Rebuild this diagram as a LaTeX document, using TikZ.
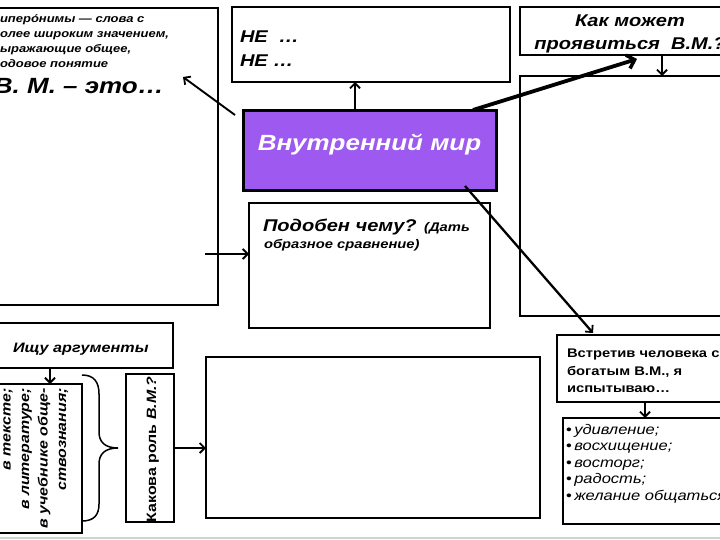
\documentclass[tikz,border=0pt]{standalone}
\usepackage{fontspec}
\setmainfont{Liberation Sans}[FakeStretch=1.18]
\usetikzlibrary{arrows.meta,calc}
\definecolor{vmpurple}{RGB}{158,90,240}
\newcommand\fsz[1]{\fontsize{#1}{#1}\selectfont}
\begin{document}
\begin{tikzpicture}[x=1pt,y=-1pt,
  box/.style={draw, line width=2.2pt, inner sep=0pt, outer sep=0pt, anchor=north west},
  txt/.style={inner sep=0pt, outer sep=0pt, anchor=base west},
  arr/.style={line width=1.9pt, -{Straight Barb[length=5pt,width=10pt,line width=1.8pt]}},
  thickarr/.style={line width=3.8pt, -{Straight Barb[length=7pt,width=14pt,line width=3.5pt]}}]
\useasboundingbox (0,0) rectangle (720,540);
\clip (0,0) rectangle (720,540);
\fill[white] (0,0) rectangle (720,540);

% boxes
\node[box, minimum width=233pt, minimum height=297pt] (defbox) at (-15,8) {};
\node[box, minimum width=278pt, minimum height=75pt] (nebox) at (232,7) {};
\node[box, minimum width=215pt, minimum height=48pt] (howbox) at (520,7) {};
\node[box, minimum width=215pt, minimum height=240pt] (bigbox) at (520,76) {};
\node[box, fill=vmpurple, line width=3pt, minimum width=253pt, minimum height=80pt] (vm) at (243,111) {};
\node[box, minimum width=241pt, minimum height=125pt] (likebox) at (249,203) {};
\node[box, minimum width=188pt, minimum height=45pt] (argbox) at (-15,323) {};
\node[box, line width=1.5pt, minimum width=97pt, minimum height=149pt] (srcbox) at (-15,384) {};
\node[box, line width=1.4pt, minimum width=48pt, minimum height=148pt] (rolebox) at (126,374) {};
\node[box, minimum width=334pt, minimum height=161pt] (midbox) at (206,357) {};
\node[box, minimum width=173pt, minimum height=67pt] (meetbox) at (557,335) {};
\node[box, minimum width=167pt, minimum height=106pt] (feelbox) at (563,418) {};

% texts
\node[txt, font=\fsz{11}\bfseries\itshape] (d1) at (0,23) {иперо́нимы — слова с};
\node[txt, font=\fsz{11}\bfseries\itshape] (d2) at (0,38) {олее широким значением,};
\node[txt, font=\fsz{11}\bfseries\itshape] (d3) at (0,53) {ыражающие общее,};
\node[txt, font=\fsz{11}\bfseries\itshape] (d4) at (0,68) {одовое понятие};
\node[txt, font=\fsz{22}\bfseries\itshape] (dvm) at (-6,94) {В. М. – это…};

\node[txt, font=\fsz{17}\bfseries\itshape] (ne1) at (240,43) {НЕ\ \ …};
\node[txt, font=\fsz{17}\bfseries\itshape] (ne2) at (240,67) {НЕ …};

\node[inner sep=0pt, anchor=base, font=\fsz{17}\bfseries\itshape] (how1) at (630,27) {Как может};
\node[inner sep=0pt, anchor=base, font=\fsz{17}\bfseries\itshape] (how2) at (630,50) {проявиться\ \ В.М.?};

\node[inner sep=0pt, anchor=base, text=white, font=\fsz{22}\bfseries\itshape] (vmtext) at (369.5,151) {Внутренний мир};

\node[txt, font=\fsz{17}\bfseries\itshape] (like1) at (263,231) {Подобен чему? {\fsz{12.5}(Дать}};
\node[txt, font=\fsz{12.5}\bfseries\itshape] (like2) at (264,248) {образное сравнение)};

\node[txt, font=\fsz{13.7}\bfseries\itshape] (argtext) at (13,352) {Ищу аргументы};

\node[inner sep=0pt, anchor=base east, rotate=90, font=\fsz{13.5}\bfseries\itshape] (s1) at (10.5,388) {в тексте;};
\node[inner sep=0pt, anchor=base east, rotate=90, font=\fsz{13.5}\bfseries\itshape] (s2) at (29,388) {в литературе;};
\node[inner sep=0pt, anchor=base east, rotate=90, font=\fsz{13.5}\bfseries\itshape] (s3) at (47.5,388) {в учебнике обще-};
\node[inner sep=0pt, anchor=base east, rotate=90, font=\fsz{13.5}\bfseries\itshape] (s4) at (66,388) {ствознания;};

\node[inner sep=0pt, anchor=base, rotate=90, font=\fsz{13.5}\bfseries] (roletext) at (156,449.5) {Какова роль \textit{В.М.?}};

\node[txt, font=\fsz{12.5}\bfseries] (m1) at (567,357) {Встретив человека с};
\node[txt, font=\fsz{12.5}\bfseries] (m2) at (567,375) {богатым В.М., я};
\node[txt, font=\fsz{12.5}\bfseries] (m3) at (567,392) {испытываю…};

\node[txt, font=\fsz{14}] (f1) at (566,434) {•\hspace{2.5pt}\textit{удивление;}};
\node[txt, font=\fsz{14}] (f2) at (566,450.5) {•\hspace{2.5pt}\textit{восхищение;}};
\node[txt, font=\fsz{14}] (f3) at (566,467) {•\hspace{2.5pt}\textit{восторг;}};
\node[txt, font=\fsz{14}] (f4) at (566,483.5) {•\hspace{2.5pt}\textit{радость;}};
\node[txt, font=\fsz{14}] (f5) at (566,500) {•\hspace{2.5pt}\textit{желание общаться}};

% brace
\draw[line width=1.5pt] (82,375) .. controls (94,375) and (99,382) .. (99,394) -- (99,432)
  .. controls (99,442) and (105,448) .. (118,448)
  .. controls (105,448) and (99,454) .. (99,464) -- (99,504)
  .. controls (99,515) and (94,521) .. (82,521);

% connectors
\draw[arr] ($(vm.north west)+(112,0)$) -- ($(nebox.south west)+(123,0)$);
\draw[arr] ($(vm.north west)+(-8,4)$) -- ($(defbox.north east)+(-35,69)$);
\draw[thickarr] ($(vm.north east)+(-23,-1)$) -- ($(howbox.south west)+(117,4)$);
\draw[arr, line width=2.3pt] ($(vm.south east)+(-31,-5)$) -- ($(meetbox.north west)+(36,-2)$);
\draw[arr] ($(howbox.south west)+(142,0)$) -- ($(bigbox.north west)+(142,0)$);
\draw[arr] ($(defbox.north east)+(-13,246)$) -- ($(likebox.north west)+(0,51)$);
\draw[arr] ($(argbox.south west)+(65,0)$) -- ($(srcbox.north west)+(65,0)$);
\draw[arr] (rolebox.east) -- (rolebox.east -| midbox.west);
\draw[arr] ($(meetbox.south west)+(88,0)$) -- ($(feelbox.north west)+(82,0)$);

\draw[gray!35, line width=1.5pt] (0,538) -- (720,538);
\end{tikzpicture}
\end{document}
